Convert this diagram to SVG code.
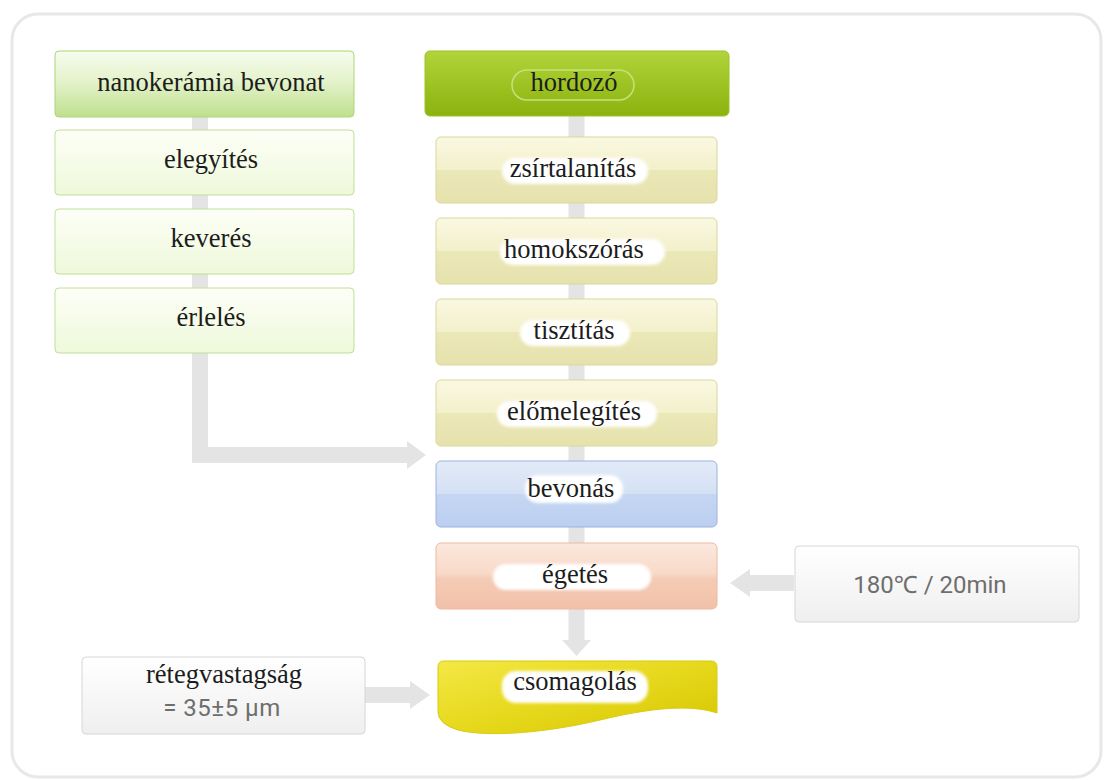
<svg xmlns="http://www.w3.org/2000/svg" width="1109" height="780" viewBox="0 0 1109 780">
<defs>
<linearGradient id="gTop" x1="0" y1="0" x2="0" y2="1"><stop offset="0" stop-color="#f7fcee"/><stop offset="0.45" stop-color="#e4f3cc"/><stop offset="1" stop-color="#bfe08e"/></linearGradient>
<linearGradient id="gLeft" x1="0" y1="0" x2="0" y2="1"><stop offset="0" stop-color="#fdfff7"/><stop offset="1" stop-color="#eef8da"/></linearGradient>
<linearGradient id="gDark" x1="0" y1="0" x2="0" y2="1"><stop offset="0" stop-color="#b1d43a"/><stop offset="1" stop-color="#8bb30e"/></linearGradient>
<linearGradient id="gYel" x1="0" y1="0" x2="0" y2="1"><stop offset="0" stop-color="#faf8e2"/><stop offset="0.5" stop-color="#f3f0cb"/><stop offset="0.5" stop-color="#ebe8b8"/><stop offset="1" stop-color="#e6e2ad"/></linearGradient>
<linearGradient id="gBlue" x1="0" y1="0" x2="0" y2="1"><stop offset="0" stop-color="#e3ebf8"/><stop offset="0.5" stop-color="#d4e0f4"/><stop offset="0.5" stop-color="#c4d6f2"/><stop offset="1" stop-color="#bccff0"/></linearGradient>
<linearGradient id="gRed" x1="0" y1="0" x2="0" y2="1"><stop offset="0" stop-color="#fbe8dd"/><stop offset="0.45" stop-color="#f8dac9"/><stop offset="0.55" stop-color="#f5cbb5"/><stop offset="1" stop-color="#f2c1a9"/></linearGradient>
<linearGradient id="gGrey" x1="0" y1="0" x2="0" y2="1"><stop offset="0" stop-color="#ffffff"/><stop offset="1" stop-color="#efefef"/></linearGradient>
<linearGradient id="gPack" x1="0" y1="0" x2="1" y2="1"><stop offset="0" stop-color="#f4e845"/><stop offset="0.5" stop-color="#e6d81c"/><stop offset="1" stop-color="#d6c600"/></linearGradient>
<filter id="soft" x="-20%" y="-50%" width="140%" height="200%"><feGaussianBlur stdDeviation="1.5"/></filter>
</defs>
<style>
.frame{fill:#ffffff;stroke:#e8e8e8;stroke-width:3}
.bar{fill:none;stroke:#e4e4e4;stroke-width:16}
.head{fill:#e4e4e4}
.lbl{font-family:"Liberation Serif","Times New Roman",serif;font-size:26.5px;fill:#1c1c1c;text-anchor:middle}
.sans{font-family:Roboto,"Noto Sans","DejaVu Sans",sans-serif;font-size:24px;fill:#6e6e6e;text-anchor:middle}
.blob{fill:#ffffff;filter:url(#soft)}
</style>
<rect class="frame" x="12" y="14" width="1089" height="763" rx="26"/>
<g id="connectors">
<path class="bar" d="M200,117 V455 H408"/>
<polygon class="head" points="407,441 426,455 407,469"/>
<path class="bar" d="M576.5,116 V641"/>
<polygon class="head" points="562,640 576.5,656 591,640"/>
<path class="bar" d="M794,583 H749"/>
<polygon class="head" points="750,569 730,583 750,597"/>
<path class="bar" d="M365,695 H411"/>
<polygon class="head" points="410,681 430,695 410,709"/>
</g>
<g id="n-nanokeramia"><rect x="55" y="51" width="299" height="66" rx="4" fill="url(#gTop)" stroke="#aed47a"/><text class="lbl" x="211" y="91">nanokerámia bevonat</text></g>
<g id="n-elegyites"><rect x="55" y="130" width="299" height="65" rx="4" fill="url(#gLeft)" stroke="#c0df98"/><text class="lbl" x="211" y="168">elegyítés</text></g>
<g id="n-keveres"><rect x="55" y="209" width="299" height="65" rx="4" fill="url(#gLeft)" stroke="#c0df98"/><text class="lbl" x="211" y="247">keverés</text></g>
<g id="n-erleles"><rect x="55" y="288" width="299" height="65" rx="4" fill="url(#gLeft)" stroke="#c0df98"/><text class="lbl" x="211" y="326">érlelés</text></g>
<g id="n-hordozo"><rect x="425" y="51" width="304" height="65" rx="5" fill="url(#gDark)" stroke="#9cc22a"/><rect x="512" y="70" width="122" height="30" rx="15" fill="none" stroke="#c8e07a" stroke-width="1.5"/><text class="lbl" x="574" y="91">hordozó</text></g>
<g id="n-zsirtalanitas"><rect x="436" y="137" width="281" height="66" rx="5" fill="url(#gYel)" stroke="#dbd79b"/><rect class="blob" x="502" y="158" width="146" height="26" rx="13"/><text class="lbl" x="573" y="177">zsírtalanítás</text></g>
<g id="n-homokszoras"><rect x="436" y="218" width="281" height="66" rx="5" fill="url(#gYel)" stroke="#dbd79b"/><rect class="blob" x="500" y="239" width="165" height="26" rx="13"/><text class="lbl" x="574" y="258">homokszórás</text></g>
<g id="n-tisztitas"><rect x="436" y="299" width="281" height="66" rx="5" fill="url(#gYel)" stroke="#dbd79b"/><rect class="blob" x="520" y="320" width="110" height="26" rx="13"/><text class="lbl" x="574" y="339">tisztítás</text></g>
<g id="n-elomelegites"><rect x="436" y="380" width="281" height="66" rx="5" fill="url(#gYel)" stroke="#dbd79b"/><rect class="blob" x="497" y="401" width="160" height="26" rx="13"/><text class="lbl" x="574" y="420">előmelegítés</text></g>
<g id="n-bevonas"><rect x="436" y="461" width="281" height="66" rx="5" fill="url(#gBlue)" stroke="#9bb4de"/><rect class="blob" x="525" y="475" width="98" height="28" rx="13"/><text class="lbl" x="571" y="497">bevonás</text></g>
<g id="n-egetes"><rect x="436" y="543" width="281" height="66" rx="5" fill="url(#gRed)" stroke="#eeb9a2"/><rect class="blob" x="493" y="564" width="158" height="26" rx="13"/><text class="lbl" x="575" y="583">égetés</text></g>
<g id="n-csomagolas"><path d="M438,667 Q438,661 444,661 L711,661 Q717,661 717,667 L717,713 C690,704 650,708 600,720 C550,732 490,738 458,730 Q438,724 438,712 Z" fill="url(#gPack)" stroke="#d8cb10"/><rect class="blob" x="502" y="671" width="146" height="32" rx="14"/><text class="lbl" x="575" y="690">csomagolás</text></g>
<g id="n-retegvastagsag"><rect x="82" y="657" width="283" height="77" rx="4" fill="url(#gGrey)" stroke="#d6d6d6"/><text class="lbl" x="224" y="683">rétegvastagság</text><text class="sans" x="222" y="716" letter-spacing="0.5">= 35±5 µm</text></g>
<g id="n-homerseklet"><rect x="795" y="546" width="284" height="76" rx="4" fill="url(#gGrey)" stroke="#d6d6d6"/><text class="sans" x="930" y="593">180℃ / 20min</text></g>
</svg>
